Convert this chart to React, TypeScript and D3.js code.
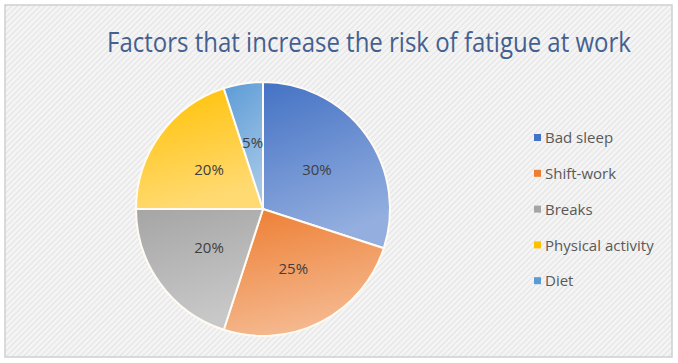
import { useEffect, useRef } from 'react';
import * as d3 from 'd3';

const categories = ['Bad sleep', 'Shift-work', 'Breaks', 'Physical activity', 'Diet'];
const shares = [30, 25, 20, 20, 5];
const darkColors = ['#4472C4', '#ED7D31', '#A5A5A5', '#FFC000', '#5B9BD5'];
const lightColors = ['#93AEDF', '#F5B88E', '#C8C8C8', '#FFDA72', '#A3C6E8'];
const title = 'Factors that increase the risk of fatigue at work';

const W = 678;
const H = 363;

export default function App() {
    const svgRef = useRef<SVGSVGElement>(null);

    useEffect(() => {
        if (!svgRef.current) return;
        const svg = d3.select(svgRef.current);
        svg.selectAll('*').remove();

        const defs = svg.append('defs');
        const pat = defs.append('pattern')
            .attr('id', 'stripes')
            .attr('width', 4)
            .attr('height', 4)
            .attr('patternUnits', 'userSpaceOnUse')
            .attr('patternTransform', 'rotate(45)');
        pat.append('rect').attr('width', 4).attr('height', 4).attr('fill', '#f4f4f4');
        pat.append('line').attr('x1', 0).attr('y1', 0).attr('x2', 0).attr('y2', 4)
            .attr('stroke', '#dedede').attr('stroke-width', 1.5);

        categories.forEach((_, i) => {
            const g = defs.append('linearGradient')
                .attr('id', `grad${i}`)
                .attr('x1', 0).attr('y1', 0).attr('x2', 0.3).attr('y2', 1);
            g.append('stop').attr('offset', '0%').attr('stop-color', darkColors[i]);
            g.append('stop').attr('offset', '100%').attr('stop-color', lightColors[i]);
        });

        // background
        svg.append('rect').attr('width', W).attr('height', H).attr('fill', '#ffffff');
        svg.append('rect')
            .attr('x', 5).attr('y', 5).attr('width', 667).attr('height', 352)
            .attr('fill', 'url(#stripes)')
            .attr('stroke', '#cfcfcf').attr('stroke-width', 1.5);

        // title, squeezed horizontally to mimic a condensed face
        const tg = svg.append('g');
        const t = tg.append('text')
            .attr('text-anchor', 'middle')
            .attr('font-family', 'Open Sans, sans-serif')
            .attr('font-size', 27.5)
            .attr('fill', '#44608F')
            .text(title);
        const natural = (t.node() as SVGTextElement).getComputedTextLength() || 740;
        tg.attr('transform', `translate(369,52) scale(${524 / natural},1)`);

        const cx = 263, cy = 209, r = 127;
        const pie = d3.pie<number>().sort(null).value(d => d);
        const arcs = pie(shares);
        const arc = d3.arc<d3.PieArcDatum<number>>().innerRadius(0).outerRadius(r);
        const labelArc = d3.arc<d3.PieArcDatum<number>>().innerRadius(0).outerRadius(r * 1.05);

        const g = svg.append('g').attr('transform', `translate(${cx},${cy})`);
        g.selectAll('path.slice')
            .data(arcs)
            .enter()
            .append('path')
            .attr('class', 'slice')
            .attr('d', arc)
            .attr('fill', (_, i) => `url(#grad${i})`)
            .attr('stroke', '#fffbf2')
            .attr('stroke-width', 2);

        g.selectAll('text.lbl')
            .data(arcs)
            .enter()
            .append('text')
            .attr('class', 'lbl')
            .attr('transform', d => {
                const [x, y] = labelArc.centroid(d);
                return `translate(${x},${y})`;
            })
            .attr('text-anchor', 'middle')
            .attr('dy', '0.35em')
            .attr('font-family', 'Open Sans, sans-serif')
            .attr('font-size', 15)
            .attr('fill', '#404040')
            .text(d => `${d.data}%`);

        const leg = svg.append('g').attr('transform', 'translate(534,138)');
        const rows = leg.selectAll('g')
            .data(categories)
            .enter()
            .append('g')
            .attr('transform', (_, i) => `translate(0,${i * 35.8})`);
        rows.append('rect')
            .attr('x', 0).attr('y', -4).attr('width', 7).attr('height', 7)
            .attr('fill', (_, i) => darkColors[i]);
        rows.append('text')
            .attr('x', 11).attr('dy', '0.35em')
            .attr('font-family', 'Open Sans, sans-serif')
            .attr('font-size', 15)
            .attr('fill', '#595959')
            .text(d => d);
    }, []);

    return (
        <svg
            ref={svgRef}
            width={W}
            height={H}
            style={{ position: 'absolute', left: 0, top: 0 }}
        />
    );
}
